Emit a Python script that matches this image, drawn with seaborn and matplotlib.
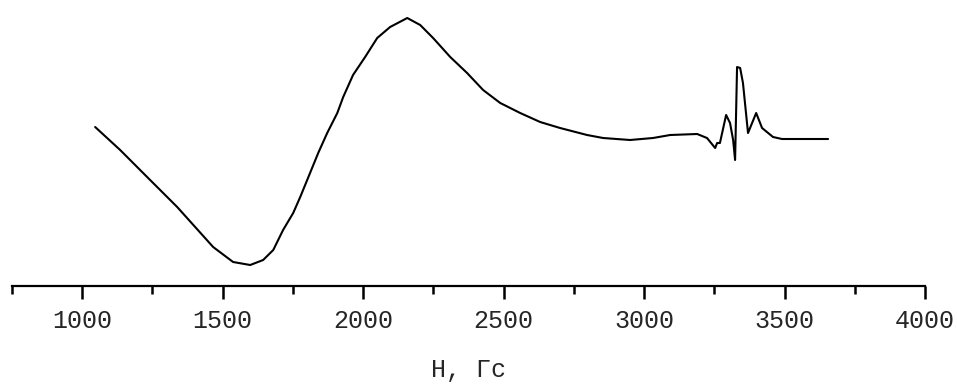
import numpy as np
import pandas as pd
import matplotlib
matplotlib.use("Agg")
import matplotlib.pyplot as plt
import seaborn as sns

# field values (Gs) and signal (arb. units)
field = [1046, 1135, 1231, 1338, 1466, 1537, 1598, 1644, 1680, 1715, 1751, 1776,
         1811, 1840, 1872, 1908, 1929, 1964, 2007, 2050, 2096, 2157, 2203, 2249,
         2310, 2370, 2427, 2488, 2559, 2630, 2701, 2797, 2854, 2950, 3032, 3093,
         3189, 3224, 3253, 3260, 3270, 3292, 3306, 3317, 3324, 3331, 3342, 3352,
         3370, 3399, 3420, 3459, 3491, 3655]
signal = [1.2, -1.1, -3.8, -6.8, -10.8, -12.3, -12.6, -12.1, -11.1, -9.1, -7.4, -5.8,
          -3.4, -1.4, 0.6, 2.6, 4.2, 6.4, 8.2, 10.1, 11.2, 12.1, 11.4, 10.1,
          8.2, 6.6, 4.9, 3.6, 2.6, 1.7, 1.1, 0.4, 0.1, -0.1, 0.1, 0.4,
          0.5, 0.1, -0.9, -0.4, -0.4, 2.4, 1.6, -0.1, -2.1, 7.2, 7.1, 5.6,
          0.6, 2.6, 1.1, 0.2, 0.0, 0.0]

major_ticks = [1000, 1500, 2000, 2500, 3000, 3500, 4000]
minor_ticks = [750, 1250, 1750, 2250, 2750, 3250, 3750]

df = pd.DataFrame({"H": field, "I": signal})

sns.set_style("white")
plt.rcParams['font.family'] = ['Liberation Mono', 'DejaVu Sans']

fig = plt.figure(figsize=(9.57, 3.87), dpi=100)
ax = fig.add_axes([12 / 957, 101 / 387, 913 / 957, 276 / 387])

sns.lineplot(data=df, x="H", y="I", sort=False, color="black", linewidth=1.5, ax=ax)

ax.set_xlim(750, 4000)
ax.set_ylim(-14.7, 12.9)

# only the bottom axis is shown
ax.spines[['top', 'left', 'right']].set_visible(False)
ax.spines['bottom'].set_linewidth(1.6)
ax.spines['bottom'].set_color('black')
ax.set_yticks([])
ax.set_ylabel('')

ax.set_xticks(major_ticks)
ax.set_xticks(minor_ticks, minor=True)
ax.tick_params(axis='x', which='major', direction='out', length=9.5, width=1.8,
               color='black', pad=7, labelsize=18, bottom=True)
ax.tick_params(axis='x', which='minor', direction='out', length=6, width=1.8,
               color='black', bottom=True)

ax.set_xlabel('H, Гс', fontsize=18, labelpad=18)

fig.savefig("out.png", dpi=100)
